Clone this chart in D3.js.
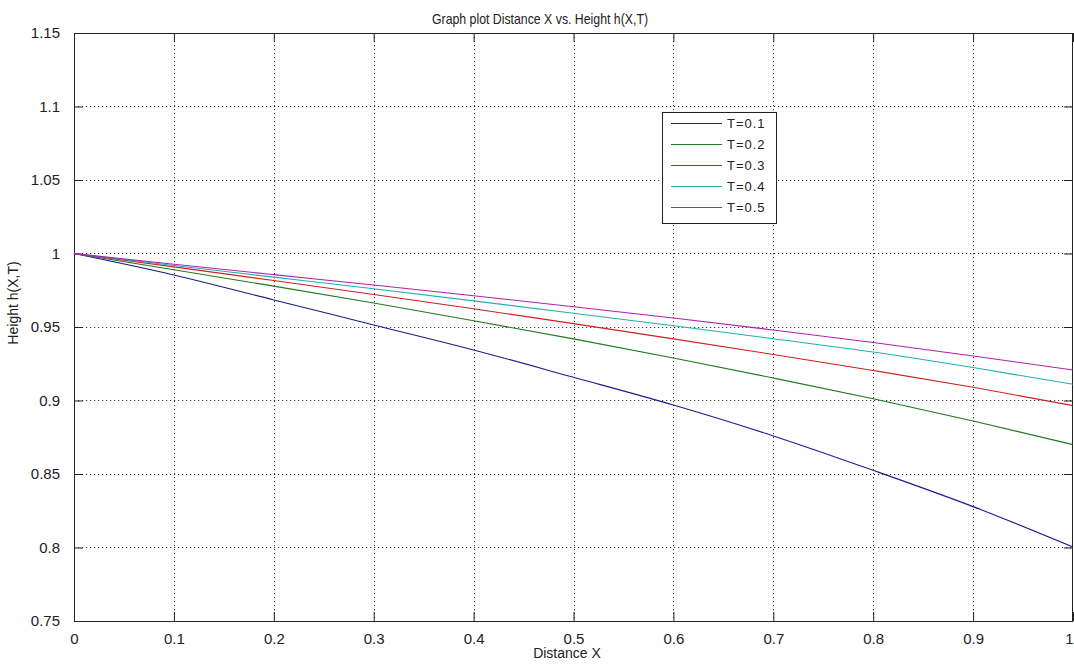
<!DOCTYPE html>
<html>
<head>
<meta charset="utf-8">
<script src="https://cdn.jsdelivr.net/npm/d3@7"></script>
<style>
  body { margin: 0; background: #fff; }
  svg { display: block; }
  .tick text { font-family: "Liberation Sans", Arial, sans-serif; font-size: 15px; fill: #222; }
  .grid line { stroke: #333; stroke-width: 1; stroke-dasharray: 1.2 2.8; }
</style>
</head>
<body>
<div id="chart"></div>
<script>
// chart values
const xValues = [0, 0.1, 0.2, 0.3, 0.4, 0.5, 0.6, 0.7, 0.8, 0.9, 1]
const seriesNames = ['T=0.1', 'T=0.2', 'T=0.3', 'T=0.4', 'T=0.5']
const h01 = [1, 0.9854, 0.9684, 0.9514, 0.9344, 0.9158, 0.8969, 0.8759, 0.8525, 0.8278, 0.8003]
const h02 = [1, 0.9890, 0.9778, 0.9663, 0.9543, 0.9419, 0.9289, 0.9153, 0.9012, 0.8860, 0.8700]
const h03 = [1, 0.9909, 0.9816, 0.9721, 0.9624, 0.9523, 0.9419, 0.9313, 0.9204, 0.9090, 0.8965]
const h04 = [1, 0.9918, 0.9839, 0.9760, 0.9678, 0.9594, 0.9508, 0.9420, 0.9330, 0.9224, 0.9110]
const h05 = [1, 0.9927, 0.9856, 0.9786, 0.9713, 0.9638, 0.9561, 0.9480, 0.9395, 0.9303, 0.9207]
const xTicks = [0, 0.1, 0.2, 0.3, 0.4, 0.5, 0.6, 0.7, 0.8, 0.9, 1]
const yTicks = [0.75, 0.8, 0.85, 0.9, 0.95, 1, 1.05, 1.1, 1.15]
const colors = ['#1c1c8c', '#1f7a1f', '#d02020', '#20b0b0', '#b020b0']

const width = 1074
const height = 664
const plotLeft = 74, plotRight = 1073, plotTop = 33, plotBottom = 621

const svg = d3.select('#chart').append('svg')
	.attr('width', width)
	.attr('height', height)

const x = d3.scaleLinear().domain([0, 1]).range([plotLeft, plotRight])
const y = d3.scaleLinear().domain([0.75, 1.15]).range([plotBottom, plotTop])

// grid (dotted)
const grid = svg.append('g').attr('class', 'grid')
grid.selectAll('line.gx')
	.data(xTicks.slice(1, -1))
	.enter().append('line')
	.attr('x1', d => Math.round(x(d)) + 0.5).attr('x2', d => Math.round(x(d)) + 0.5)
	.attr('y1', plotTop).attr('y2', plotBottom)
grid.selectAll('line.gy')
	.data(yTicks.slice(1, -1))
	.enter().append('line')
	.attr('y1', d => Math.round(y(d)) + 0.5).attr('y2', d => Math.round(y(d)) + 0.5)
	.attr('x1', plotLeft).attr('x2', plotRight)

// axes, ticks inward on all four sides
const fmt = d => String(+d.toFixed(2))
svg.append('g')
	.attr('transform', `translate(0,${plotBottom})`)
	.call(d3.axisBottom(x).tickValues(xTicks).tickFormat(fmt).tickSizeInner(-9).tickSizeOuter(0).tickPadding(12))
	.call(g => g.select('.domain').remove())
	// last label sits on the page edge, keep it inside
	.call(g => g.selectAll('.tick:last-of-type text').attr('text-anchor', 'end').attr('dx', 0))
svg.append('g')
	.attr('transform', `translate(${plotLeft},0)`)
	.call(d3.axisLeft(y).tickValues(yTicks).tickFormat(fmt).tickSizeInner(-9).tickSizeOuter(0).tickPadding(14))
	.call(g => g.select('.domain').remove())
svg.append('g')
	.attr('transform', `translate(0,${plotTop})`)
	.call(d3.axisTop(x).tickValues(xTicks).tickFormat('').tickSizeInner(-9).tickSizeOuter(0))
	.call(g => g.select('.domain').remove())
svg.append('g')
	.attr('transform', `translate(${plotRight},0)`)
	.call(d3.axisRight(y).tickValues(yTicks).tickFormat('').tickSizeInner(-9).tickSizeOuter(0))
	.call(g => g.select('.domain').remove())
svg.selectAll('.tick line').attr('stroke', '#222')

// box
svg.append('rect')
	.attr('x', plotLeft + 0.5).attr('y', plotTop + 0.5)
	.attr('width', plotRight - plotLeft - 1).attr('height', plotBottom - plotTop)
	.attr('fill', 'none').attr('stroke', '#222')

// curves
const series = [h01, h02, h03, h04, h05]
const line = d3.line()
	.x((d, i) => x(xValues[i]))
	.y(d => y(d))
	.curve(d3.curveMonotoneX)
svg.append('g').selectAll('path')
	.data(series)
	.enter().append('path')
	.attr('d', line)
	.attr('fill', 'none')
	.attr('stroke', (d, i) => colors[i])
	.attr('stroke-width', 1.1)

// legend
const legend = svg.append('g').attr('transform', 'translate(662,112)')
legend.append('rect')
	.attr('x', 0.5).attr('y', 0.5).attr('width', 114).attr('height', 111)
	.attr('fill', '#fff').attr('stroke', '#222')
const rows = legend.selectAll('g.row')
	.data(seriesNames)
	.enter().append('g')
	.attr('transform', (d, i) => `translate(0,${11.5 + i * 21})`)
rows.append('line')
	.attr('x1', 9).attr('x2', 60)
	.attr('stroke', (d, i) => colors[i]).attr('stroke-width', 1.2)
rows.append('text')
	.attr('x', 65).attr('dy', '0.36em')
	.style('font-family', '"Liberation Sans", Arial, sans-serif')
	.style('font-size', '13px').style('letter-spacing', '1px')
	.attr('fill', '#222')
	.text(d => d)

// labels
svg.append('text')
	.attr('x', 540).attr('y', 24)
	.attr('text-anchor', 'middle')
	.attr('textLength', 216).attr('lengthAdjust', 'spacingAndGlyphs')
	.style('font-family', '"Liberation Sans", Arial, sans-serif').style('font-size', '14.5px')
	.attr('fill', '#222')
	.text('Graph plot Distance X vs. Height h(X,T)')
svg.append('text')
	.attr('x', 567).attr('y', 658)
	.attr('text-anchor', 'middle')
	.style('font-family', '"Liberation Sans", Arial, sans-serif').style('font-size', '14px')
	.attr('fill', '#222')
	.text('Distance X')
svg.append('text')
	.attr('transform', 'translate(18,303) rotate(-90)')
	.attr('text-anchor', 'middle')
	.style('font-family', '"Liberation Sans", Arial, sans-serif').style('font-size', '14px')
	.attr('fill', '#222')
	.text('Height h(X,T)')
</script>
</body>
</html>
